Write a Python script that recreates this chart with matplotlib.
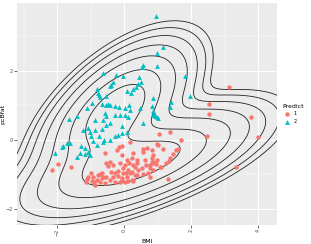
import numpy as np
import matplotlib.pyplot as plt

# class 2 (cyan triangles): BMI, pcBfat
bmi_2 = [0.95, 1.16, 0.99, 0.57, 0.52, 0.97, -0.63, -0.25, -0.05, 0.45, 0.49, -0.33, -0.38, -0.43,
         0.42, 0.35, 0.27, 0.09, 0.19, -0.53, -0.73, 0.85, -0.82, -0.76, -0.79, -0.97, -0.67, -0.55,
         -0.48, -0.28, -0.15, -0.43, 0.15, 0.47, 0.82, 0.85, -1.10, -0.58, -0.28, 0.02, 0.12, -1.40,
         -1.64, 0.97, 0.89, -0.55, -0.87, -0.63, -1.22, -1.07, -1.02, -0.87, -0.67, -1.00, -0.75,
         -0.92, -0.61, -0.81, -1.62, -1.82, -1.87, -2.07, -1.72, -1.30, -1.17, -1.07, -1.32, -1.17,
         -1.02, -1.40, -0.63, -0.43, -0.28, -0.18, -0.08, -0.53, -0.43, -0.13, 0.57, 0.87, 1.41,
         1.36, 0.92, 1.01, 0.07, 0.02, 1.81, 1.96, -0.08, 0.17]
fat_2 = [3.58, 2.70, 2.51, 2.17, 2.12, 2.14, 1.93, 1.89, 1.86, 1.83, 1.68, 1.66, 1.59, 1.56,
         1.62, 1.52, 1.47, 1.42, 1.37, 1.27, 1.23, 1.21, 1.47, 1.30, 1.36, 1.08, 1.03, 1.01,
         1.04, 0.98, 0.96, 1.00, 1.00, 0.92, 0.98, 0.85, 0.92, 0.77, 0.72, 0.72, 0.67, 0.69,
         0.61, 0.67, 0.77, 0.69, 0.58, 0.58, 0.29, 0.34, 0.24, 0.29, 0.31, 0.10, 0.12,
         -0.02, 0.00, -0.14, -0.08, -0.17, -0.21, -0.37, -0.10, -0.17, -0.24, -0.34, -0.38, -0.40,
         -0.43, -0.50, -0.05, 0.00, 0.10, 0.14, 0.21, 0.43, 0.48, 0.72, 0.48, 0.72, 1.11,
         0.96, 0.70, 0.63, 0.24, 0.92, 1.85, 1.27, 0.41, 0.87]

# class 1 (red circles)
bmi_1 = [3.13, 2.54, 2.54, 3.77, 2.46, 4.00, 3.33, 1.04, 1.38, 1.68, 1.01, 1.15, 1.54, 1.61,
         0.85, 0.82, 0.89, 0.95, 0.77, 1.24, 1.34, 1.09, 1.31, 0.77, 0.17, -0.08, 0.97, 0.67,
         0.55, 0.27, -0.08, 0.07, 0.22, 0.37, -0.13, 0.02, 0.15, 0.27, 0.37, -0.03, 0.12, 0.32,
         0.42, 0.17, 0.32, 0.07, -0.08, 0.27, 0.12, 0.82, 0.87, 0.62, 0.65, 0.52, 0.77, 0.87,
         0.72, 0.55, 1.07, 1.36, 1.46, -1.99, -0.56, -0.23, -0.48, -0.99, -1.07, -0.93, -0.78,
         -0.67, -0.82, -0.67, -0.53, -0.97, -1.12, -0.38, -0.28, -0.18, -0.33, -0.18, -0.03,
         -0.43, -0.28, -0.08, -0.87, -0.58, -2.17, -1.60, -0.15, -0.53, -0.41, -0.33, -0.73,
         -0.63, -1.14, -0.90, -0.73, 0.05, 0.22, 0.37, 0.22, 0.02, -0.13, 0.57, 0.82, 0.97]
fat_1 = [1.54, 1.04, 0.75, 0.65, 0.10, 0.08, -0.79, 0.17, 0.24, 0.00, -0.14, -0.27, -0.29, -0.26,
         -0.43, -0.63, -0.67, -0.69, -0.72, -0.66, -0.60, -0.79, -1.13, -1.06, -0.07, -0.19, -0.12, -0.22,
         -0.26, -0.38, -0.43, -0.58, -0.53, -0.58, -0.67, -0.72, -0.67, -0.72, -0.67, -0.82, -0.87, -0.77,
         -0.87, -0.96, -1.01, -1.06, -1.11, -1.18, -1.18, -0.53, -0.63, -0.58, -0.72, -0.82, -0.82, -0.87,
         -0.96, -0.99, -0.77, -0.53, -0.41, -0.69, -0.38, -0.29, -0.75, -0.96, -1.06, -1.08, -1.01,
         -0.96, -1.16, -1.11, -1.08, -1.18, -1.14, -0.92, -0.96, -0.89, -1.06, -1.04, -0.96,
         -1.16, -1.21, -1.16, -1.30, -1.25, -0.87, -0.79, -0.21, -0.67, -0.63, -0.72, -0.98,
         -1.06, -1.21, -1.23, -1.21, -0.96, -0.92, -1.01, -1.16, -1.21, -1.23, -0.34, -0.29, -0.58]

red = '#F8766D'
cyan = '#00BFC4'


def gauss(xx, yy, x, y, widen):
    pts = np.stack([xx, yy], axis=-1)
    mu = np.array([np.mean(x), np.mean(y)])
    cov = np.cov(np.array([x, y])) * widen
    inv = np.linalg.inv(cov)
    d = pts - mu
    m = np.einsum('...i,ij,...j->...', d, inv, d)
    return np.exp(-0.5 * m) / (2 * np.pi * np.sqrt(np.linalg.det(cov)))


def mixture_density(xx, yy):
    n1, n2 = len(bmi_1), len(bmi_2)
    w1 = n1 / (n1 + n2)
    return w1 * gauss(xx, yy, bmi_1, fat_1, 2.2) + (1 - w1) * gauss(xx, yy, bmi_2, fat_2, 1.3)


fig = plt.figure(figsize=(3.11, 2.44), dpi=100)
ax = fig.add_axes([0.0547, 0.0779, 0.836, 0.91])
ax.set_facecolor('#EBEBEB')

gx, gy = np.meshgrid(np.linspace(-3.3, 4.6, 300), np.linspace(-2.5, 4.0, 300))
dens = mixture_density(gx, gy)
top = dens.max()
levels = sorted(top * np.array([0.68, 0.4, 0.2, 0.1, 0.05, 0.026, 0.014]))
ax.contour(gx, gy, dens, levels=levels, colors='#222222', linewidths=0.6, zorder=2)

ax.scatter(bmi_1, fat_1, s=10, color=red, marker='o', linewidths=0, label='1', zorder=3)
ax.scatter(bmi_2, fat_2, s=12, color=cyan, marker='^', linewidths=0, label='2', zorder=3)

ax.set_xlim(-3.2, 4.56)
ax.set_ylim(-2.46, 3.96)
ax.set_xticks([-2, 0, 2, 4])
ax.set_yticks([-2, 0, 2])
ax.set_xticks([-3, -1, 1, 3], minor=True)
ax.set_yticks([-1, 1, 3], minor=True)
ax.grid(which='major', color='white', linewidth=0.7, zorder=0)
ax.grid(which='minor', color='white', linewidth=0.35, zorder=0)
ax.set_axisbelow(True)
for s in ax.spines.values():
    s.set_visible(False)
ax.tick_params(which='major', length=2, width=0.5, color='#333333', labelsize=3.5,
               labelcolor='#4D4D4D', pad=1)
ax.tick_params(which='minor', length=0)
plt.setp(ax.get_xticklabels(), rotation=90)
ax.set_xlabel('BMI', fontsize=4.5, labelpad=2)
ax.set_ylabel('pcBfat', fontsize=4.5, labelpad=0.5)

leg = ax.legend(title='Predict', loc='center left', bbox_to_anchor=(1.01, 0.5), frameon=False,
                fontsize=3.5, title_fontsize=4.5, markerscale=1.0, handletextpad=0.3,
                labelspacing=0.5, borderpad=0)
leg._legend_box.align = 'left'

fig.savefig('out.png', dpi=100)
